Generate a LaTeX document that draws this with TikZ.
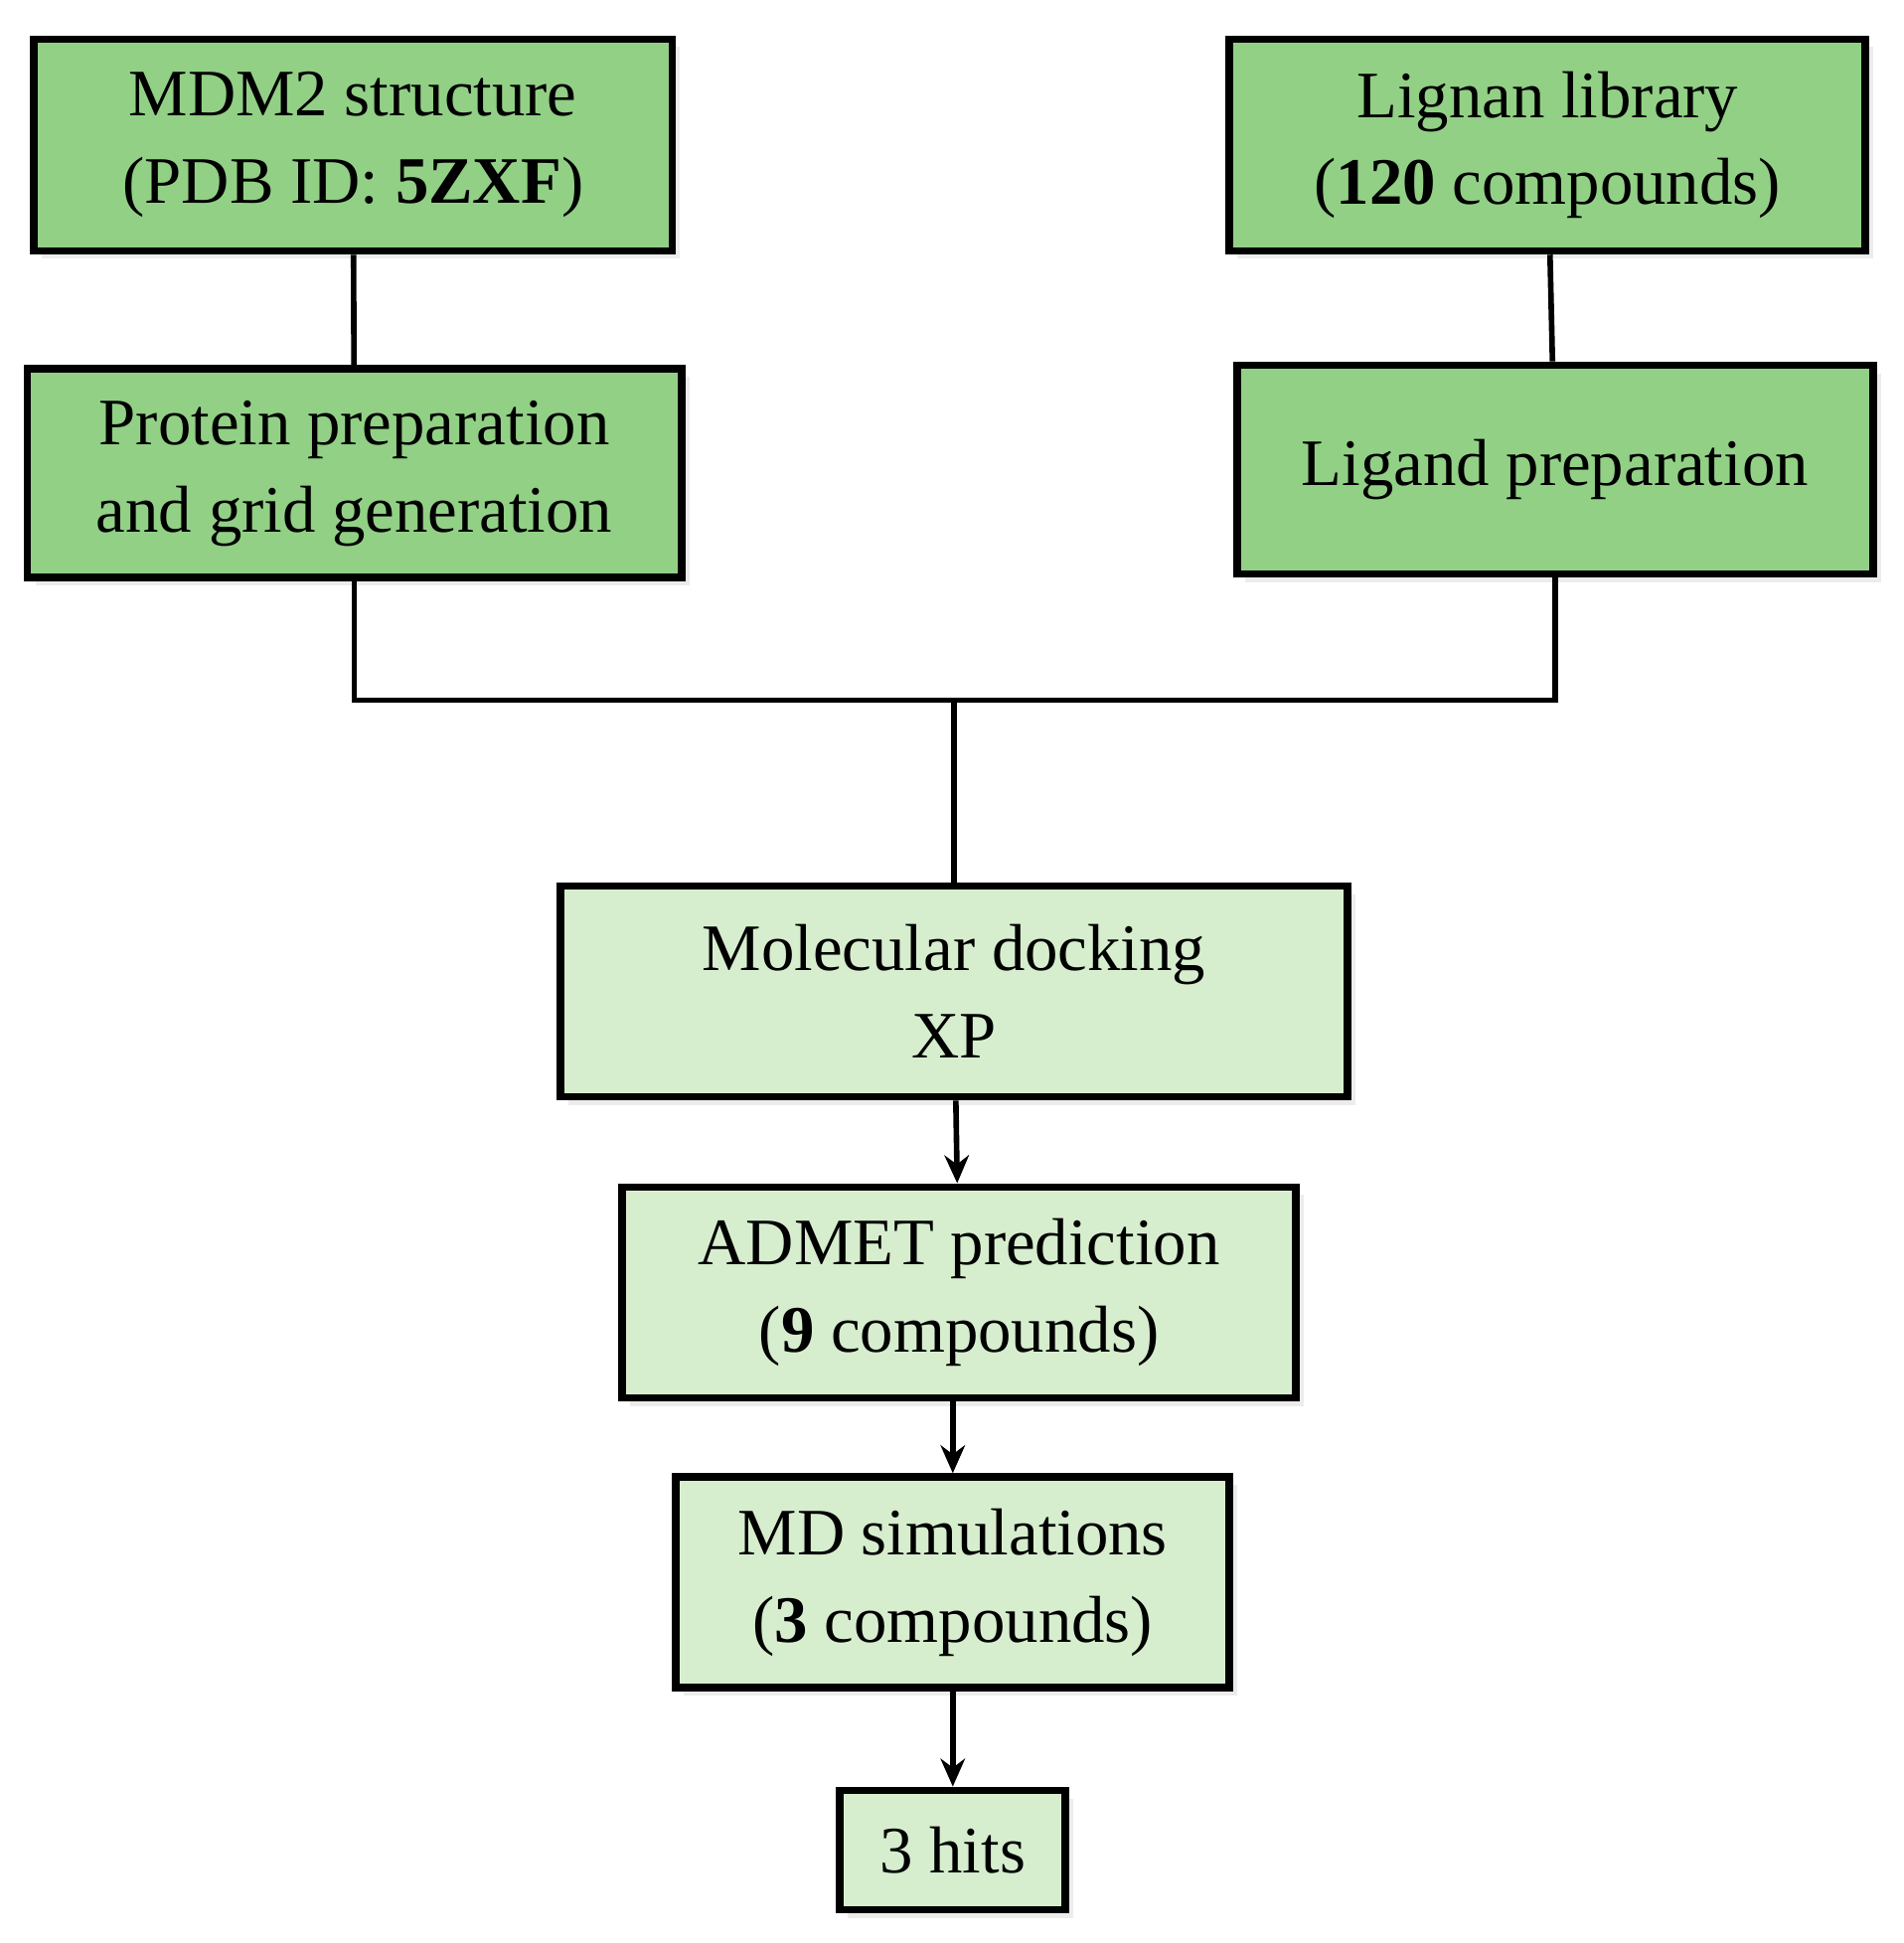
\documentclass[tikz,border=0pt]{standalone}
\usepackage{fontspec}
\setmainfont{Liberation Serif}
\usetikzlibrary{shadows,arrows.meta}
\begin{document}
\begin{tikzpicture}[x=0.01246cm,y=-0.01246cm]
    % palette
    \definecolor{boxDark}{RGB}{146,208,134}
    \definecolor{boxLight}{RGB}{214,238,206}
    \tikzstyle{every node}=[font=\fontsize{19}{25}\selectfont, align=center]
    \tikzstyle{stage}=[draw=black, line width=2.2pt, drop shadow={opacity=0.15}, inner sep=0pt]
    \useasboundingbox (0,0) rectangle (1536,1568);

    % input boxes
    \node[stage, fill=boxDark, minimum width=6.42cm, minimum height=2.13cm] (mdm) at (285,117) {MDM2 structure\\(PDB ID: \textbf{5ZXF})};
    \node[stage, fill=boxDark, minimum width=6.4cm, minimum height=2.13cm] (lib) at (1249,117) {Lignan library\\(\textbf{120} compounds)};
    \node[stage, fill=boxDark, minimum width=6.58cm, minimum height=2.1cm] (prot) at (286,382) {Protein preparation\\and grid generation};
    \node[stage, fill=boxDark, minimum width=6.4cm, minimum height=2.1cm] (lig) at (1255,379) {Ligand preparation};

    % pipeline
    \node[stage, fill=boxLight, minimum width=7.92cm, minimum height=2.12cm] (dock) at (770,800) {Molecular docking\\XP};
    \node[stage, fill=boxLight, minimum width=6.78cm, minimum height=2.12cm] (admet) at (774,1043) {ADMET prediction\\(\textbf{9} compounds)};
    \node[stage, fill=boxLight, minimum width=5.57cm, minimum height=2.12cm] (md) at (769,1277) {MD simulations\\(\textbf{3} compounds)};
    \node[stage, fill=boxLight, minimum width=2.27cm, minimum height=1.2cm] (hits) at (769,1493) {3 hits};

    % connectors
    \coordinate (join) at (770,565);
    \draw[line width=1.6pt] (mdm) -- (prot);
    \draw[line width=1.6pt] (lib) -- (lig);
    \draw[line width=1.6pt] (prot.south) |- (join);
    \draw[line width=1.6pt] (lig.south) |- (join);
    \draw[line width=1.6pt] (join) -- (dock.north);
    \draw[-{Stealth[length=8pt,width=7pt]}, line width=1.6pt] (dock) -- (admet);
    \draw[-{Stealth[length=8pt,width=7pt]}, line width=1.6pt] (admet.south -| md) -- (md);
    \draw[-{Stealth[length=8pt,width=7pt]}, line width=1.6pt] (md) -- (hits);
\end{tikzpicture}
\end{document}
